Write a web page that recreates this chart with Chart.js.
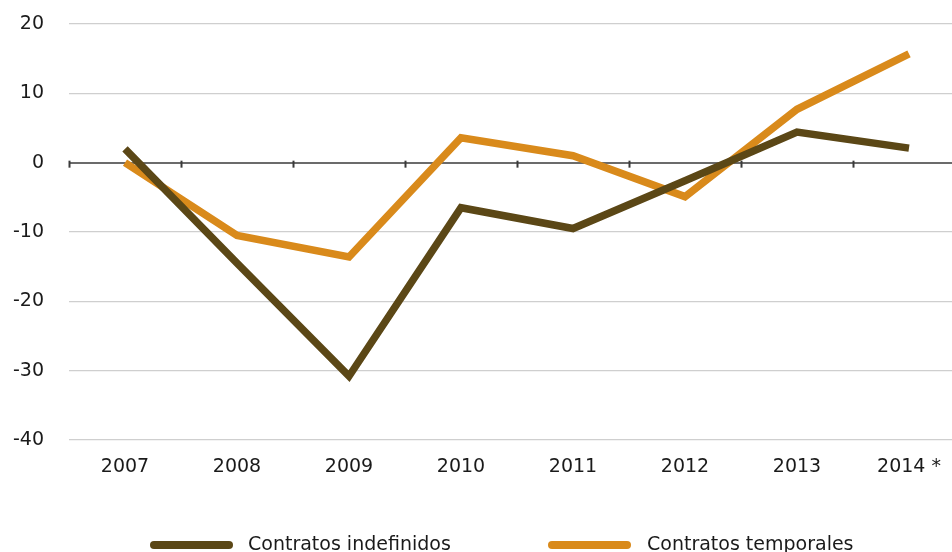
<!DOCTYPE html>
<html>
<head>
<meta charset="utf-8">
<script src="https://cdn.jsdelivr.net/npm/chart.js@4"></script>
<style>
  html, body { margin: 0; padding: 0; background: #fff; overflow: hidden; }
  #wrap { width: 970px; height: 552px; position: relative; }
</style>
</head>
<body>
<div id="wrap"><canvas id="c" width="970" height="552"></canvas></div>
<script>
const categories = ['2007', '2008', '2009', '2010', '2011', '2012', '2013', '2014 *'];
const seriesNames = ['Contratos indefinidos', 'Contratos temporales'];
const indefinidos = [2.0, -14.5, -30.8, -6.5, -9.5, -2.6, 4.4, 2.1];
const temporales = [0.0, -10.5, -13.6, 3.6, 1.0, -4.9, 7.7, 15.7];
const yTicks = [20, 10, 0, -10, -20, -30, -40];

const colors = ['#5b4716', '#d98a1b'];
const FONT = 'DejaVu Sans';

const decorPlugin = {
  id: 'decor',
  beforeDatasetsDraw(chart) {
    const ctx = chart.ctx;
    const xs = chart.scales.x, ys = chart.scales.y;
    const y0 = ys.getPixelForValue(0);
    const step = xs.getPixelForValue(1) - xs.getPixelForValue(0);
    ctx.save();
    ctx.strokeStyle = '#3a3a3a';
    ctx.lineWidth = 2;
    for (let i = 0; i <= categories.length; i++) {
      const x = Math.round(xs.getPixelForValue(0) - step / 2 + i * step) + 0.5;
      ctx.beginPath();
      ctx.moveTo(x, y0 - 2);
      ctx.lineTo(x, y0 + 5);
      ctx.stroke();
    }
    ctx.restore();
  },
  afterDraw(chart) {
    const ctx = chart.ctx;
    const items = [
      { x: 150, textX: 248 },
      { x: 548, textX: 647 }
    ];
    const y = 545;
    ctx.save();
    ctx.font = '19px "' + FONT + '"';
    ctx.textBaseline = 'middle';
    ctx.fillStyle = '#1a1a1a';
    chart.data.datasets.forEach((ds, i) => {
      const it = items[i];
      ctx.strokeStyle = ds.borderColor;
      ctx.lineWidth = 8;
      ctx.lineCap = 'round';
      ctx.beginPath();
      ctx.moveTo(it.x + 4, y);
      ctx.lineTo(it.x + 79, y);
      ctx.stroke();
      ctx.fillText(ds.label, it.textX, y);
    });
    ctx.restore();
  }
};

new Chart(document.getElementById('c'), {
  type: 'line',
  data: {
    labels: categories,
    datasets: [
      { label: seriesNames[0], data: indefinidos, borderColor: colors[0], backgroundColor: colors[0],
        borderWidth: 7.5, pointRadius: 0, tension: 0, borderCapStyle: 'butt', borderJoinStyle: 'miter' },
      { label: seriesNames[1], data: temporales, borderColor: colors[1], backgroundColor: colors[1],
        borderWidth: 7.5, pointRadius: 0, tension: 0, borderCapStyle: 'butt', borderJoinStyle: 'miter' }
    ]
  },
  options: {
    responsive: false,
    animation: false,
    devicePixelRatio: 1,
    layout: { padding: { top: 24, right: 5, left: 0, bottom: 0 } },
    plugins: { legend: { display: false }, tooltip: { enabled: false } },
    scales: {
      x: {
        type: 'category',
        offset: true,
        grid: { display: false, drawTicks: false },
        border: { display: false },
        ticks: { color: '#1a1a1a', font: { family: FONT, size: 19 }, padding: 16, maxRotation: 0, autoSkip: false },
        afterFit(scale) { scale.height = 112; }
      },
      y: {
        min: -40, max: 20,
        afterBuildTicks(scale) { scale.ticks = yTicks.map(v => ({ value: v })); },
        grid: {
          drawTicks: true,
          tickLength: 20,
          tickColor: 'rgba(0,0,0,0)',
          color: ctx => ctx.tick && ctx.tick.value === 0 ? '#6b6b6b' : '#cfcfcf',
          lineWidth: ctx => ctx.tick && ctx.tick.value === 0 ? 2 : 1.3
        },
        border: { display: false },
        ticks: { color: '#1a1a1a', font: { family: FONT, size: 19 }, padding: 5 },
        afterFit(scale) { scale.width = 69; }
      }
    }
  },
  plugins: [decorPlugin]
});
</script>
</body>
</html>
